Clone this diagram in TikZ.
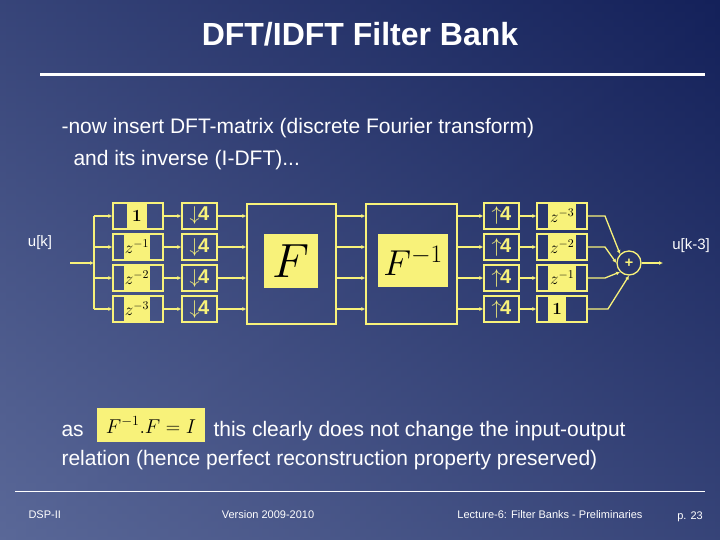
\RequirePackage{fix-cm}
\documentclass[tikz,border=0pt]{standalone}
\usepackage[no-math]{fontspec}
\setmainfont{Liberation Sans}
\usetikzlibrary{arrows.meta}
\definecolor{yel}{HTML}{F8F27A}
\definecolor{bgA}{HTML}{5A6898}
\definecolor{bgB}{HTML}{14215A}
\begin{document}
\begin{tikzpicture}[x=1pt,y=-1pt,
  ln/.style={draw=yel,line width=1.3pt},
  ar/.style={ln,-{Latex[length=4pt,width=4pt]}},
  bx/.style={draw=yel,line width=1.3pt,minimum height=26pt,inner sep=0pt},
  patch/.style={fill=yel,inner sep=1pt,text=black},
  wt/.style={text=white,font=\fontsize{21}{25}\selectfont},
  ft/.style={text=white,font=\fontsize{11}{13}\selectfont},
  rate/.style={bx,minimum width=35pt,text=yel,font=\bfseries\fontsize{20}{20}\selectfont}]
\useasboundingbox (0,0) rectangle (720,540);
\shade[shading angle=225,top color=bgB,bottom color=bgA] (0,0) rectangle (720,540);
\shade[left color=bgA,right color=bgB,opacity=0.5] (0,0) rectangle (720,540);
\node[text=white,font=\bfseries\fontsize{32}{36}\selectfont] (title) at (360,34) {DFT/IDFT Filter Bank};
\draw[white,line width=3pt] (40,75) -- (705,75);
\node[wt,anchor=west] (t1) at (58,128) {-now insert DFT-matrix (discrete Fourier transform)};
\node[wt,anchor=west] (t2) at (70,160) {and its inverse (I-DFT)...};
% input
\node[text=white,font=\fontsize{15}{18}\selectfont] (uk) at (40,243) {u[k]};
\coordinate (in) at (70,263);
\coordinate (br) at (94,263);
\draw[ar] (in) -- (br);
\draw[ln] (94,216) -- (94,309);
\foreach \i/\y/\d in {1/216/{$\mathbf{1}$},2/247/{$z^{-1}$},3/278/{$z^{-2}$},4/309/{$z^{-3}$}}{
  \node[bx,minimum width=50pt] (d\i) at (138,\y) {};
  \node[patch,minimum width=20pt,minimum height=24pt,font=\fontsize{17}{17}\selectfont] at (137,\y) {\d};
  \coordinate (b\i) at (94,\y);
  \draw[ar] (b\i) -- (d\i.west);
  \node[rate] (s\i) at (199.5,\y) {$\downarrow$\kern-1.5pt4};
  \draw[ar] (d\i.east) -- (s\i.west);
}
\node[draw=yel,line width=1.3pt,minimum width=89pt,minimum height=120pt] (F) at (291.5,264) {};
\node[patch,minimum width=54pt,minimum height=54pt,font=\fontsize{48}{48}\selectfont] at (291,261) {$F$};
\node[draw=yel,line width=1.3pt,minimum width=91pt,minimum height=120pt] (Fi) at (411.5,264) {};
\node[patch,minimum width=70pt,minimum height=53pt,font=\fontsize{36}{36}\selectfont] at (413,260.5) {$F^{-1}$};
\foreach \i/\y/\d/\w in {1/216/{$z^{-3}$}/28,2/247/{$z^{-2}$}/28,3/278/{$z^{-1}$}/28,4/309/{$\mathbf{1}$}/18}{
  \draw[ar] (s\i.east) -- (F.west |- s\i.east);
  \draw[ar] (F.east |- s\i.east) -- (Fi.west |- s\i.east);
  \node[rate] (u\i) at (501.5,\y) {$\uparrow$\kern-1.5pt4};
  \draw[ar] (Fi.east |- u\i.west) -- (u\i.west);
  \node[bx,minimum width=50pt] (e\i) at (562,\y) {};
  \node[patch,anchor=west,minimum width=\w pt,minimum height=24pt,font=\fontsize{17}{17}\selectfont] at (548,\y) {\d};
  \draw[ar] (u\i.east) -- (e\i.west);
}
\node[draw=yel,line width=1.3pt,circle,minimum size=24pt,inner sep=0pt,text=yel,font=\bfseries\Large] (sum) at (629,263) {+};
\draw[ar] (e1.east) -- (605,216) -- (sum.north west);
\draw[ar] (e2.east) -- (605,247) -- (sum.west);
\draw[ar] (e3.east) -- (605,278) -- (sum.south west);
\draw[ar] (e4.east) -- (608,309) -- (sum.south);
\coordinate (out) at (663,263);
\draw[ar] (sum.east) -- (out);
\node[text=white,font=\fontsize{15}{18}\selectfont] (uk3) at (691,246) {u[k-3]};
% bottom text
\node[wt,anchor=west] (as) at (58,431) {as};
\node[patch,minimum width=108pt,minimum height=34pt,font=\fontsize{20}{20}\selectfont] (eq) at (151,425) {$F^{-1}.F=I$};
\node[wt,anchor=west] (t3) at (210,431) {this clearly does not change the input-output};
\node[wt,anchor=west] (t4) at (58,460) {relation (hence perfect reconstruction property preserved)};
\draw[white,line width=1pt] (15,491) -- (705,491);
\node[ft,anchor=west] (f1) at (25,515) {DSP-II};
\node[ft] (f2) at (268,515) {Version 2009-2010};
\node[ft] (f3) at (550,515) {Lecture-6: Filter Banks - Preliminaries};
\node[ft] (f4) at (690,517) {p. 23};
\end{tikzpicture}
\end{document}
